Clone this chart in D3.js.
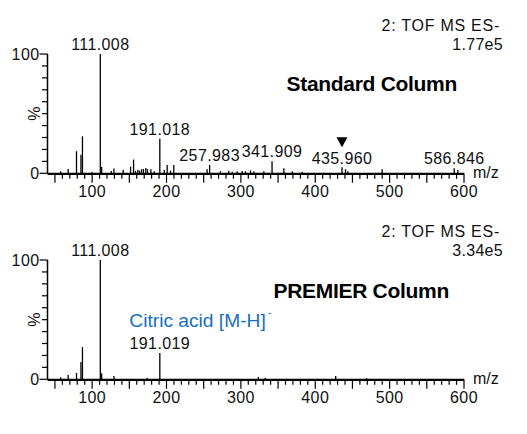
<!DOCTYPE html>
<html><head><meta charset="utf-8">
<script src="https://cdn.jsdelivr.net/npm/d3@7"></script>
<style>
html,body{margin:0;padding:0;background:#fff;}
svg{display:block;font-family:"Liberation Sans",Arial,sans-serif;}
</style></head>
<body>
<svg id="c" width="527" height="434"></svg>
<script>
// ---- data ----
const stdMz  = [57.7, 67.8, 79.0, 85.0, 87.0, 99.8, 111.008, 112.8, 125.7, 129.3, 141.8, 151.7, 155.7, 158.4, 161.5, 163.8, 166.4, 169.0, 172.2, 174.5, 179.0, 183.5, 191.018, 196.9, 200.9, 205.4, 209.8, 254.6, 257.983, 272.5, 283.7, 288.4, 295.0, 301.8, 306.3, 313.0, 317.5, 330.9, 341.909, 357.8, 369.0, 382.4, 435.960, 440.7, 443.8, 490.0, 586.846, 591.7];
const stdInt = [1.7, 3.6, 18.5, 15.5, 31, 1.0, 100, 5.3, 2.0, 4.0, 3.0, 5.6, 11.5, 2.0, 3.0, 2.2, 3.4, 3.6, 4.5, 3.4, 3.4, 1.7, 29, 2.8, 7.0, 2.2, 7.0, 3.4, 7.0, 1.7, 2.2, 1.4, 1.7, 2.0, 1.7, 2.5, 1.7, 1.7, 10.2, 4.2, 1.7, 1.4, 5.0, 3.4, 1.7, 3.4, 4.2, 2.8];
const premMz  = [57.7, 67.8, 79.0, 85.0, 87.0, 111.008, 112.8, 129.3, 174.0, 191.019, 323.5, 332.5, 427.5, 469.0];
const premInt = [1.7, 3.6, 5.3, 14.6, 27, 100, 5.0, 2.8, 1.4, 22, 2.0, 1.0, 2.8, 1.0];
const stdLabelMz   = [111.008, 191.018, 257.983, 341.909, 435.960, 586.846];
const stdLabelText = ["111.008", "191.018", "257.983", "341.909", "435.960", "586.846"];
const premLabelMz   = [111.008, 191.019];
const premLabelText = ["111.008", "191.019"];
const markerMz = [435.960];
const xTickLabels = [100, 200, 300, 400, 500, 600];
const yTickLabels = [0, 100];
const panelTitles = ["Standard Column", "PREMIER Column"];
const scanLines = [["2: TOF MS ES-", "1.77e5"], ["2: TOF MS ES-", "3.34e5"]];
const annotation = "Citric acid [M-H]";

// ---- layout ----
const svg = d3.select("#c");
const x = d3.scaleLinear().domain([40, 600]).range([47.5, 464]);
const panels = [
  {mz: stdMz, it: stdInt, lm: stdLabelMz, lt: stdLabelText, y0: 173.3, y1: 54, title: panelTitles[0], scan: scanLines[0], titleX: 286.5, titleY: 91, dy: 0},
  {mz: premMz, it: premInt, lm: premLabelMz, lt: premLabelText, y0: 379.3, y1: 260, title: panelTitles[1], scan: scanLines[1], titleX: 273.5, titleY: 297.7, dy: 206}
];
const numFont = 16;
const numSpacing = 0.4;

panels.forEach((p, pi) => {
  const y = d3.scaleLinear().domain([0, 100]).range([p.y0, p.y1]);
  const g = svg.append("g");

  // peaks
  g.selectAll("line.pk").data(p.mz.map((m, i) => [m, p.it[i]])).enter().append("line")
    .attr("x1", d => x(d[0])).attr("x2", d => x(d[0]))
    .attr("y1", y(0)).attr("y2", d => y(d[1]))
    .attr("stroke", "#000").attr("stroke-width", 1.3);

  // y axis
  const yTicks = d3.range(0, 101, 10);
  g.append("line").attr("x1", x(40)).attr("x2", x(40)).attr("y1", y(0)).attr("y2", y(100))
    .attr("stroke", "#000").attr("stroke-width", 1.5);
  g.selectAll("line.yt").data(yTicks).enter().append("line")
    .attr("x1", d => x(40) - ((d === 0 || d === 100) ? 8 : 5.5)).attr("x2", x(40))
    .attr("y1", d => y(d)).attr("y2", d => y(d))
    .attr("stroke", "#000").attr("stroke-width", 1.2);
  g.selectAll("text.yl").data(yTickLabels).enter().append("text")
    .attr("x", 39.5).attr("y", d => y(d) + 5.6).attr("text-anchor", "end")
    .attr("font-size", numFont).attr("letter-spacing", numSpacing).attr("fill", "#111").text(d => d);
  g.append("text").attr("transform", `translate(39.5,${y(50)}) rotate(-90)`)
    .attr("text-anchor", "middle").attr("font-size", numFont).attr("fill", "#111").text("%");

  // x axis
  g.append("line").attr("x1", x(40)).attr("x2", x(600)).attr("y1", y(0) + 0.5).attr("y2", y(0) + 0.5)
    .attr("stroke", "#000").attr("stroke-width", 2.2);
  const xTicks = d3.range(50, 601, 10);
  g.selectAll("line.xt").data(xTicks).enter().append("line")
    .attr("x1", d => x(d)).attr("x2", d => x(d))
    .attr("y1", y(0)).attr("y2", d => y(0) + (d % 50 === 0 ? 9.5 : 5.5))
    .attr("stroke", "#000").attr("stroke-width", 1.2);
  g.selectAll("text.xl").data(xTickLabels).enter().append("text")
    .attr("x", d => x(d)).attr("y", y(0) + 24).attr("text-anchor", "middle")
    .attr("font-size", numFont).attr("letter-spacing", numSpacing).attr("fill", "#111").text(d => d);
  g.append("text").attr("x", 473).attr("y", y(0) + 5).attr("font-size", numFont).attr("fill", "#111").text("m/z");

  // peak labels
  g.selectAll("text.pl").data(p.lm.map((m, i) => [m, p.lt[i]])).enter().append("text")
    .attr("x", d => x(d[0])).attr("y", d => {
      const idx = p.mz.indexOf(d[0]);
      return y(p.it[idx]) - 3.8;
    })
    .attr("text-anchor", "middle").attr("font-size", numFont).attr("letter-spacing", numSpacing)
    .attr("fill", "#111").text(d => d[1]);

  // scan info
  g.append("text").attr("x", 500).attr("y", 30.7 + p.dy).attr("text-anchor", "end")
    .attr("font-size", 16).attr("letter-spacing", 0.75).attr("fill", "#111").text(p.scan[0]);
  g.append("text").attr("x", 503).attr("y", 50 + p.dy).attr("text-anchor", "end")
    .attr("font-size", 16).attr("letter-spacing", 0.3).attr("fill", "#111").text(p.scan[1]);

  // title
  g.append("text").attr("x", p.titleX).attr("y", p.titleY)
    .attr("font-size", 21).attr("font-weight", "bold").attr("letter-spacing", -0.3)
    .attr("fill", "#000").text(p.title);

  if (pi === 0) {
    // marker triangle above 435.960
    markerMz.forEach(m => {
      const cx = x(m);
      g.append("path").attr("d", `M${cx - 5.5},137.3 L${cx + 5.5},137.3 L${cx},147.3 Z`).attr("fill", "#000");
    });
  } else {
    const t = g.append("text").attr("x", 129.3).attr("y", 327.3)
      .attr("font-size", 19.2).attr("fill", "#1670BE").text(annotation);
    t.append("tspan").attr("dy", -11).attr("dx", 2).attr("font-size", 11).text("-");
  }
});
</script>
</body></html>
